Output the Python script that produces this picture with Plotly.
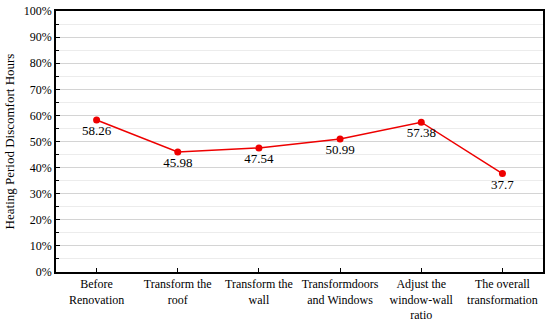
import plotly.graph_objects as go

categories = ["Before<br>Renovation", "Transform the<br>roof", "Transform the<br>wall",
              "Transformdoors<br>and Windows", "Adjust the<br>window-wall<br>ratio",
              "The overall<br>transformation"]
values = [58.26, 45.98, 47.54, 50.99, 57.38, 37.7]
value_labels = ["58.26", "45.98", "47.54", "50.99", "57.38", "37.7"]
y_ticks = list(range(0, 101, 10))
y_tick_labels = [f"{v}%" for v in y_ticks]

FONT = "Times New Roman, Liberation Serif, serif"

fig = go.Figure()
fig.add_trace(go.Scatter(
    x=list(range(len(categories))), y=values,
    mode="lines+markers+text",
    line=dict(color="#ee0000", width=1.5),
    marker=dict(color="#ee0000", size=7),
    text=value_labels, textposition="bottom center",
    textfont=dict(family=FONT, size=13, color="black"),
    cliponaxis=False, showlegend=False,
))

fig.update_layout(
    width=550, height=323,
    margin=dict(l=56, r=7, t=11, b=51),
    plot_bgcolor="white", paper_bgcolor="white",
    font=dict(family=FONT, size=12, color="black"),
)
fig.update_xaxes(
    tickmode="array", tickvals=list(range(len(categories))), ticktext=categories,
    range=[-0.5, 5.5], showgrid=False, zeroline=False,
    showline=True, linecolor="black", linewidth=1.5, mirror=True,
    ticks="inside", ticklen=4, tickcolor="black",
    tickfont=dict(family=FONT, size=12), automargin=False,
)
fig.update_yaxes(
    range=[0, 100], tickmode="array", tickvals=y_ticks, ticktext=y_tick_labels,
    showgrid=True, gridcolor="#d4d4d4", gridwidth=1,
    zeroline=False, showline=True, linecolor="black", linewidth=1.5, mirror=True,
    ticks="inside", ticklen=4, tickcolor="black",
    tickfont=dict(family=FONT, size=12), automargin=False,
    title=dict(text="Heating Period Discomfort Hours", font=dict(family=FONT, size=13),
               standoff=6),
)
fig.update_yaxes(minor=dict(tickmode="array", tickvals=list(range(5, 100, 10)),
                            showgrid=True, gridcolor="#ececec",
                            ticks="inside", ticklen=3, tickcolor="black"))

fig.write_html("out.html", config={"displayModeBar": False},
               post_script="document.body.style.margin='0';document.body.style.overflow='hidden';")
